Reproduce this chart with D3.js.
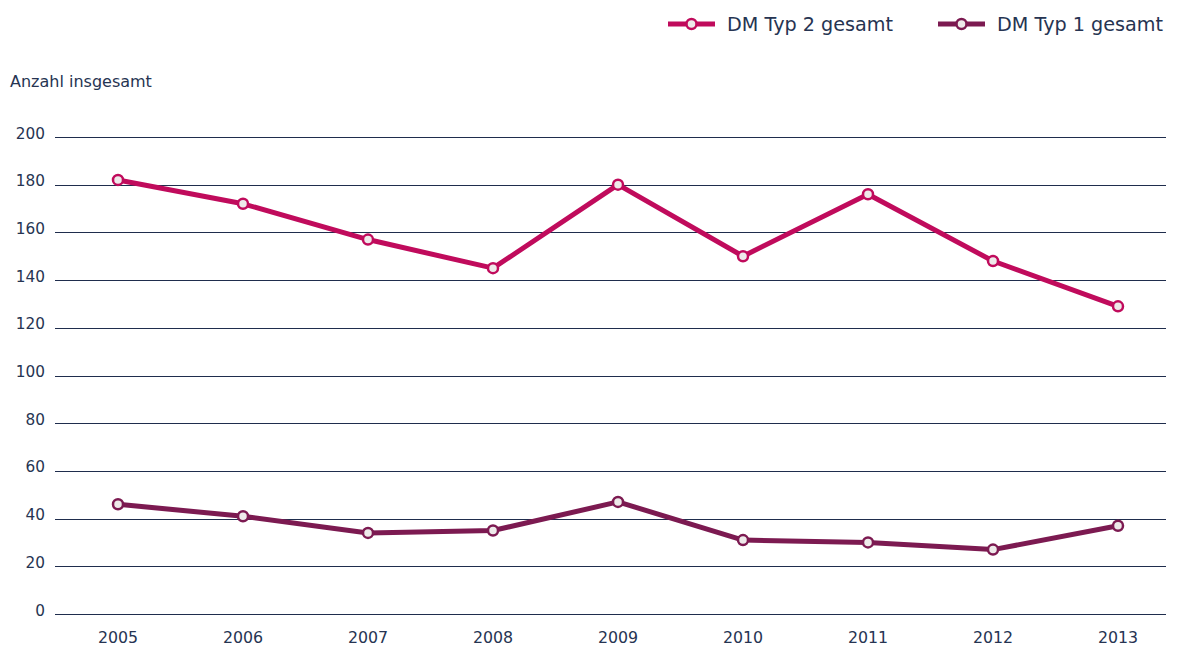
<!DOCTYPE html>
<html>
<head>
<meta charset="UTF-8">
<script src="https://d3js.org/d3.v7.min.js"></script>
<style>
  body { margin: 0; background: #fff; }
  svg text { font-family: "DejaVu Sans", "Liberation Sans", sans-serif; fill: #263452; }
</style>
</head>
<body>
<div id="chart"></div>
<script>
// Daten
const years = ["2005", "2006", "2007", "2008", "2009", "2010", "2011", "2012", "2013"];
const typ2 = [182, 172, 157, 145, 180, 150, 176, 148, 129];
const typ1 = [46, 41, 34, 35, 47, 31, 30, 27, 37];
const yTicks = [0, 20, 40, 60, 80, 100, 120, 140, 160, 180, 200];
const seriesNames = ["DM Typ 2 gesamt", "DM Typ 1 gesamt"];
const seriesColors = ["#c00b5c", "#7c1a51"];

const width = 1178, height = 647;
const svg = d3.select("#chart").append("svg")
  .attr("width", width).attr("height", height);

const x = d3.scalePoint().domain(years).range([118, 1118]);
const y = d3.scaleLinear().domain([0, 200]).range([614, 137]);

// Gitterlinien
svg.append("g")
  .selectAll("line")
  .data(yTicks)
  .join("line")
  .attr("x1", 55).attr("x2", 1166)
  .attr("y1", d => Math.round(y(d)) + 0.5)
  .attr("y2", d => Math.round(y(d)) + 0.5)
  .attr("stroke", "#1f2d4d")
  .attr("stroke-width", 1);

// Y-Achse Beschriftung
svg.append("g")
  .selectAll("text")
  .data(yTicks)
  .join("text")
  .attr("x", 45)
  .attr("y", d => y(d) + 1.5)
  .attr("text-anchor", "end")
  .attr("font-size", 15.3)
  .text(d => d);

// X-Achse Beschriftung
svg.append("g")
  .selectAll("text")
  .data(years)
  .join("text")
  .attr("x", d => x(d))
  .attr("y", 643)
  .attr("text-anchor", "middle")
  .attr("font-size", 15.8)
  .text(d => d);

svg.append("text")
  .attr("x", 10).attr("y", 87)
  .attr("font-size", 16)
  .text("Anzahl insgesamt");

// Linien
const line = d3.line().x((d, i) => x(years[i])).y(d => y(d));

[typ2, typ1].forEach((vals, k) => {
  const g = svg.append("g");
  g.append("path")
    .datum(vals)
    .attr("d", line)
    .attr("fill", "none")
    .attr("stroke", seriesColors[k])
    .attr("stroke-width", 5)
    .attr("stroke-linejoin", "round");
  g.selectAll("circle")
    .data(vals)
    .join("circle")
    .attr("cx", (d, i) => x(years[i]))
    .attr("cy", d => y(d))
    .attr("r", 5)
    .attr("fill", "#eeeaea")
    .attr("stroke", seriesColors[k])
    .attr("stroke-width", 2.5);
});

// Legende
const legendX = [668, 938];
seriesNames.forEach((name, k) => {
  const lg = svg.append("g").attr("transform", `translate(${legendX[k]},24)`);
  lg.append("line")
    .attr("x1", 0).attr("x2", 47)
    .attr("stroke", seriesColors[k])
    .attr("stroke-width", 5);
  lg.append("circle")
    .attr("cx", 23.5).attr("r", 5)
    .attr("fill", "#eeeaea")
    .attr("stroke", seriesColors[k])
    .attr("stroke-width", 2.5);
  lg.append("text")
    .attr("x", 59)
    .attr("dy", "0.35em")
    .attr("font-size", 19.2)
    .text(name);
});
</script>
</body>
</html>
